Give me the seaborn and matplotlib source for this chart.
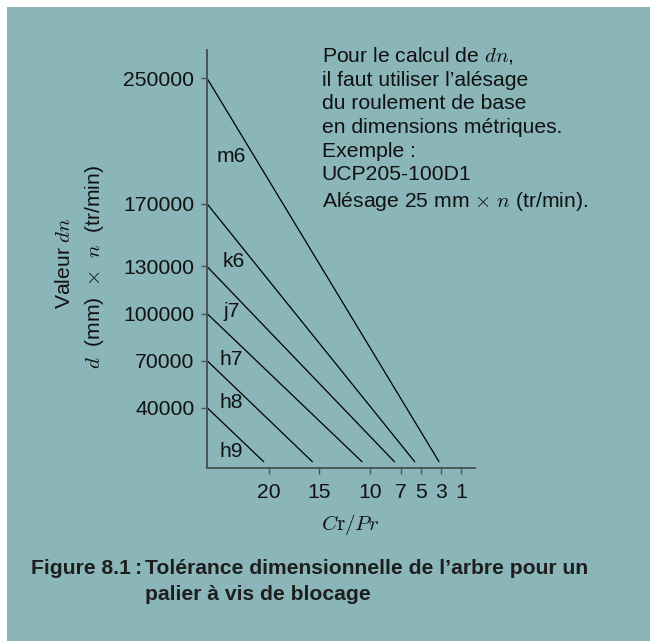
import numpy as np
import pandas as pd
import seaborn as sns
import matplotlib.pyplot as plt
from matplotlib.patches import Rectangle

# Shaft tolerance classes and the dn value where each line starts
tolerances = ["m6", "k6", "j7", "h7", "h8", "h9"]
start_dn = [250000, 170000, 130000, 100000, 70000, 40000]
# Cr/Pr value where each line reaches the bottom
end_ratio = [3.2, 5.6, 7.6, 10.8, 15.7, 20.5]
end_dn = 5500
# Positions of the class labels inside the chart
label_ratio = [25.2, 24.6, 24.5, 24.9, 24.9, 24.9]
label_dn = [200000, 133000, 101000, 71000, 43000, 12000]

dn_ticks = [40000, 70000, 100000, 130000, 170000, 250000]
ratio_ticks = [20, 15, 10, 7, 5, 3, 1]
ratio_max, ratio_min = 26.1, -0.35
dn_min, dn_max = 1700, 268000

note_lines = [
    r"Pour le calcul de $dn$,",
    "il faut utiliser l’alésage",
    "du roulement de base",
    "en dimensions métriques.",
    "Exemple :",
    "UCP205-100D1",
    r"Alésage 25 mm $\times$ $n$ (tr/min).",
]

BG = "#8ab5b9"
INK = "#111111"
AXIS = "#4a5557"
FS = 15.2

sns.set_theme(style="ticks")
plt.rcParams["font.family"] = ["Liberation Sans", "DejaVu Sans"]
plt.rcParams["mathtext.fontset"] = "cm"

rows = []
for tol, y0, x1 in zip(tolerances, start_dn, end_ratio):
    rows.append({"tol": tol, "ratio": ratio_max, "dn": y0})
    rows.append({"tol": tol, "ratio": x1, "dn": end_dn})
df = pd.DataFrame(rows)

fig = plt.figure(figsize=(6.5, 6.41), dpi=100)
fig.patch.set_facecolor("white")
fig.patches.append(Rectangle((7 / 650, 0), 1, 1 - 7 / 641, transform=fig.transFigure,
                             facecolor=BG, edgecolor="none", zorder=-10))

ax = fig.add_axes([207 / 650, 1 - 467.7 / 641, (475 - 207) / 650, (467.7 - 50) / 641])
ax.set_facecolor("none")

sns.lineplot(data=df, x="ratio", y="dn", hue="tol", palette=["black"] * len(tolerances),
             legend=False, sort=False, estimator=None, linewidth=0.9, ax=ax)

for tol, lx, ly in zip(tolerances, label_ratio, label_dn):
    ax.text(lx, ly, tol, ha="left", va="center", fontsize=FS, color=INK)

ax.set_xlim(ratio_max, ratio_min)
ax.set_ylim(dn_min, dn_max)
ax.set_xticks(ratio_ticks)
ax.set_xticklabels([str(v) for v in ratio_ticks])
ax.set_yticks(dn_ticks)
ax.set_yticklabels([str(v) for v in dn_ticks])
ax.tick_params(axis="both", labelsize=FS, labelcolor=INK, color=AXIS,
               length=4, width=1.0)
ax.tick_params(axis="y", pad=5)
ax.tick_params(axis="x", pad=7)

sns.despine(ax=ax)
for side in ("left", "bottom"):
    ax.spines[side].set_color(AXIS)
    ax.spines[side].set_linewidth(1.4)

ax.set_xlabel(r"$C\mathrm{r}/Pr$", fontsize=FS, color=INK)
ax.xaxis.set_label_coords(0.534, -0.106)
ax.set_ylabel("")

ax.text(-0.53, 0.49, r"Valeur $dn$", transform=ax.transAxes, rotation=90,
        ha="center", va="center", fontsize=FS, color=INK)
ax.text(-0.42, 0.48, r"$d$  (mm)  $\times$  $n$  (tr/min)", transform=ax.transAxes,
        rotation=90, ha="center", va="center", fontsize=FS, color=INK)

fig.text(321.7 / 650, 1 - 45 / 641, "\n".join(note_lines), ha="left", va="top",
         fontsize=FS, color=INK, linespacing=1.31)

fig.text(31 / 650, 1 - 568 / 641, "Figure 8.1\u2009:", ha="left", va="center",
         fontsize=FS, fontweight="bold", color="#1e1e1e")
fig.text(145 / 650, 1 - 568 / 641, "Tolérance dimensionnelle de l’arbre pour un",
         ha="left", va="center", fontsize=FS, fontweight="bold", color="#1e1e1e")
fig.text(145 / 650, 1 - 595 / 641, "palier à vis de blocage",
         ha="left", va="center", fontsize=FS, fontweight="bold", color="#1e1e1e")

fig.savefig("out.png", dpi=100, facecolor=fig.get_facecolor())
